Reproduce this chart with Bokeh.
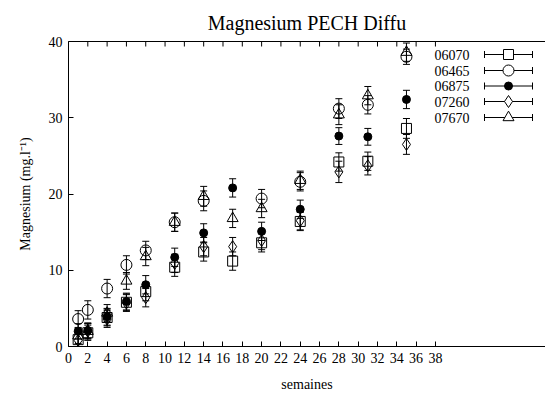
from bokeh.plotting import figure
from bokeh.models import (ColumnDataSource, Whisker, TeeHead, LinearAxis,
                          FixedTicker, Range1d)
from bokeh.core.properties import value
from bokeh.embed import file_html
from bokeh.resources import INLINE

# ---------------- data ----------------
weeks = [1, 2, 4, 6, 8, 11, 14, 17, 20, 24, 28, 31, 35]
series_names = ["06070", "06465", "06875", "07260", "07670"]
nan = float("nan")
mg_06070 = [0.9, 1.8, 3.8, 5.8, 7.2, 10.4, 12.4, 11.2, 13.6, 16.4, 24.2, 24.3, 28.6]
mg_06465 = [3.6, 4.8, 7.6, 10.7, 12.6, 16.3, 19.1, nan, 19.4, 21.6, 31.2, 31.7, 38.0]
mg_06875 = [2.0, 2.1, 3.9, 5.9, 8.1, 11.7, 14.9, 20.8, 15.1, 18.0, 27.6, 27.5, 32.4]
mg_07260 = [0.8, 2.0, 3.6, 5.7, 6.4, 10.9, 13.1, 13.1, 13.9, 16.5, 22.9, 23.7, 26.5]
mg_07670 = [1.4, 2.0, 4.4, 8.6, 11.8, 16.3, 19.7, 16.8, 18.1, 21.8, 30.4, 32.9, 38.6]
err_06070 = [1.0, 1.0, 1.1, 1.1, 1.2, 1.2, 1.2, 1.2, 1.2, 1.2, 1.2, 1.2, 1.3]
err_06465 = [1.1, 1.2, 1.2, 1.2, 1.2, 1.2, 1.3, nan, 1.2, 1.2, 1.3, 1.2, 1.0]
err_06875 = [1.0, 1.0, 1.1, 1.1, 1.2, 1.2, 1.2, 1.2, 1.2, 1.2, 1.1, 1.1, 1.2]
err_07260 = [1.0, 1.0, 1.1, 1.1, 1.2, 1.2, 1.2, 1.2, 1.2, 1.2, 1.4, 1.2, 1.3]
err_07670 = [1.0, 1.0, 1.1, 1.1, 1.2, 1.2, 1.3, 1.2, 1.2, 1.2, 1.3, 1.2, 1.2]
x_ticks = list(range(0, 40, 2))
y_ticks = [0, 10, 20, 30, 40]

values = [mg_06070, mg_06465, mg_06875, mg_07260, mg_07670]
errors = [err_06070, err_06465, err_06875, err_07260, err_07670]
markers = ["square", "circle", "circle", "diamond", "triangle"]
sizes = [10, 11, 8, 12, 11]
filled = [False, False, True, False, False]

FONT = "Liberation Serif"
X_END = 49.4
LEFT, TOP, BOTTOM = 68, 41, 55
W, H = 545, 401
FRAME_W = W - LEFT
FRAME_H = H - TOP - BOTTOM

p = figure(width=W, height=H, x_range=Range1d(0, X_END), y_range=Range1d(0, 40),
           output_backend="svg", toolbar_location=None,
           min_border_left=LEFT, min_border_right=0, min_border_top=TOP,
           min_border_bottom=BOTTOM, title="Magnesium PECH Diffu")
p.outline_line_color = None
p.grid.visible = False
p.background_fill_color = "white"
p.title.align = "center"
p.title.offset = 2
p.title.text_font = FONT
p.title.text_font_size = "20px"
p.title.text_font_style = "normal"
p.title.text_color = "black"
p.title.standoff = 15

for ax in (p.xaxis[0], p.yaxis[0]):
    ax.major_tick_in = 5
    ax.major_tick_out = 0
    ax.minor_tick_in = 0
    ax.minor_tick_out = 0
    ax.axis_line_color = "black"
    ax.major_tick_line_color = "black"
    ax.major_label_text_font = FONT
    ax.major_label_text_font_size = "14px"
    ax.major_label_text_color = "black"
    ax.axis_label_text_font = FONT
    ax.axis_label_text_font_size = "14px"
    ax.axis_label_text_font_style = "normal"
    ax.axis_label_text_color = "black"
p.xaxis.ticker = FixedTicker(ticks=x_ticks)
p.yaxis.ticker = FixedTicker(ticks=y_ticks)
p.xaxis.axis_label = "semaines"
p.yaxis.axis_label = "Magnesium (mg.l⁻¹)"
p.xaxis.major_label_standoff = 6
p.yaxis.major_label_standoff = 6
p.xaxis.axis_label_standoff = 11
p.yaxis.axis_label_standoff = 13

# top border line (axis without ticks or labels)
top = LinearAxis(ticker=FixedTicker(ticks=[]), major_tick_in=0, major_tick_out=0,
                 minor_tick_in=0, minor_tick_out=0, axis_line_color="black")
p.add_layout(top, "above")

px_x = FRAME_W / X_END
px_y = FRAME_H / 40.0

# inward tick marks on the top border
p.segment(x0=x_ticks, y0=[40] * len(x_ticks), x1=x_ticks,
          y1=[40 - 5 / px_y] * len(x_ticks), line_color="black", line_width=1)

for name, ys, es, mk, sz, fl in zip(series_names, values, errors, markers, sizes, filled):
    src = ColumnDataSource(dict(x=weeks, y=ys,
                                lo=[a - b for a, b in zip(ys, es)],
                                hi=[a + b for a, b in zip(ys, es)]))
    p.add_layout(Whisker(source=src, base="x", upper="hi", lower="lo", dimension="height",
                         line_color="black", line_width=1,
                         upper_head=TeeHead(size=7, line_color="black", line_width=1),
                         lower_head=TeeHead(size=7, line_color="black", line_width=1)))
    p.scatter("x", "y", source=src, marker=mk, size=sz, line_color="black", line_width=1,
              fill_color="black" if fl else None)

# ---------------- legend (drawn manually, gnuplot style) ----------------
def dx(px):  # page pixel -> data x
    return (px - LEFT) / px_x
def dy(py):  # page pixel -> data y
    return (H - BOTTOM - py) / px_y

rows = [54, 70, 85.5, 101, 117]
for name, row, mk, sz, fl in zip(series_names, rows, markers, sizes, filled):
    yv = dy(row)
    p.text(x=[dx(469)], y=[yv], text=[name], text_align="right", text_baseline="middle",
           text_font=value(FONT), text_font_size="14px", text_color="black")
    p.segment(x0=[dx(484)], y0=[yv], x1=[dx(532)], y1=[yv], line_color="black", line_width=1)
    p.segment(x0=[dx(484), dx(532)], y0=[dy(row - 3.5)] * 2, x1=[dx(484), dx(532)],
              y1=[dy(row + 3.5)] * 2, line_color="black", line_width=1)
    p.scatter(x=[dx(508)], y=[yv], marker=mk, size=sz, line_color="black", line_width=1,
              fill_color="black" if fl else "white")

open("out.html", "w").write(file_html(p, INLINE))
